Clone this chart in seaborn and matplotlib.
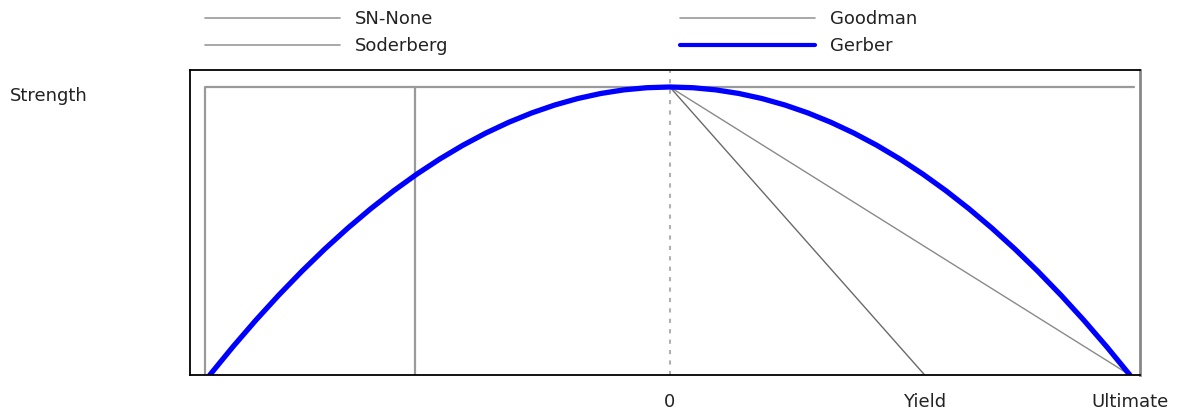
import numpy as np
import pandas as pd
import seaborn as sns
import matplotlib.pyplot as plt
from matplotlib.lines import Line2D

# fatigue envelope values (x: mean stress / ultimate, y: strength fraction)
yield_x = 0.554
ultimate_x = 1.0
strength_y = 1.0

sn_none_x = [-1.01, -1.01, 1.01]
sn_none_y = [0.0, 1.0, 1.0]

soderberg_x = [-0.554, -0.554, 0.0, 0.554]
soderberg_y = [0.0, 1.0, 1.0, 0.0]

goodman_x = [0.0, 1.0]
goodman_y = [1.0, 0.0]

gerber_x = [-1.0, -0.95, -0.9, -0.85, -0.8, -0.75, -0.7, -0.65, -0.6, -0.55, -0.5,
            -0.45, -0.4, -0.35, -0.3, -0.25, -0.2, -0.15, -0.1, -0.05, 0.0,
            0.05, 0.1, 0.15, 0.2, 0.25, 0.3, 0.35, 0.4, 0.45, 0.5,
            0.55, 0.6, 0.65, 0.7, 0.75, 0.8, 0.85, 0.9, 0.95, 1.0]
gerber_y = [0.0, 0.0975, 0.19, 0.2775, 0.36, 0.4375, 0.51, 0.5775, 0.64, 0.6975, 0.75,
            0.7975, 0.84, 0.8775, 0.91, 0.9375, 0.96, 0.9775, 0.99, 0.9975, 1.0,
            0.9975, 0.99, 0.9775, 0.96, 0.9375, 0.91, 0.8775, 0.84, 0.7975, 0.75,
            0.6975, 0.64, 0.5775, 0.51, 0.4375, 0.36, 0.2775, 0.19, 0.0975, 0.0]

tick_pos = [0.0, yield_x, ultimate_x]
tick_labels = ['0', 'Yield', 'Ultimate']

sns.set_style('white')
plt.rcParams['font.family'] = ['DejaVu Sans']

fig = plt.figure(figsize=(11.93, 4.12), dpi=100)
ax = fig.add_axes([190 / 1193, 37 / 412, 950 / 1193, 305 / 412])

grey = '#9a9a9a'
sns.lineplot(x=sn_none_x, y=sn_none_y, sort=False, estimator=None, ax=ax,
             color=grey, lw=1.6)
sns.lineplot(x=soderberg_x[:2], y=soderberg_y[:2], sort=False, estimator=None, ax=ax,
             color=grey, lw=1.6)
sns.lineplot(x=soderberg_x[2:], y=soderberg_y[2:], sort=False, estimator=None, ax=ax,
             color='#6a6a6a', lw=1.0)
sns.lineplot(x=goodman_x, y=goodman_y, sort=False, estimator=None, ax=ax,
             color='#8a8a8a', lw=1.0)
ax.axvline(0.0, color='#b0b0b0', lw=1.5, ls=(0, (2, 3)), zorder=1)
sns.lineplot(x=gerber_x, y=gerber_y, sort=False, estimator=None, ax=ax,
             color='#0000ff', lw=3.8)

ax.set_xlim(-1.043, 1.022)
ax.set_ylim(0, 1.059)

ax.set_xticks(tick_pos)
ax.set_xticklabels(tick_labels, fontsize=13, color='#222222')
ax.set_yticks([strength_y])
ax.set_yticklabels(['Strength'], fontsize=13, color='#222222')
ax.tick_params(axis='x', length=0, pad=13)
ax.tick_params(axis='y', length=0, pad=0)
for lab in ax.get_yticklabels():
    lab.set_horizontalalignment('left')
    lab.set_verticalalignment('top')
    lab.set_x(-190 / 950 + 10 / 950)
ax.set_xlabel('')
ax.set_ylabel('')
for sp in ax.spines.values():
    sp.set_color('black')
    sp.set_linewidth(1.3)
ax.spines['right'].set_color('#888888')
ax.spines['right'].set_linewidth(2)

h1 = [Line2D([], [], color=grey, lw=1.2), Line2D([], [], color=grey, lw=1.2)]
h2 = [Line2D([], [], color=grey, lw=1.2), Line2D([], [], color='#0000ff', lw=3)]
kw = dict(loc='upper left', frameon=False, fontsize=13, borderpad=0, borderaxespad=0,
          handlelength=7.5, handletextpad=0.8, labelspacing=0.5)
leg1 = fig.legend(h1, ['SN-None', 'Soderberg'], bbox_to_anchor=(205 / 1193, 1 - 10 / 412), **kw)
leg2 = fig.legend(h2, ['Goodman', 'Gerber'], bbox_to_anchor=(680 / 1193, 1 - 10 / 412), **kw)
for leg in (leg1, leg2):
    for t in leg.get_texts():
        t.set_color('#222222')

fig.savefig('out.png', dpi=100)
